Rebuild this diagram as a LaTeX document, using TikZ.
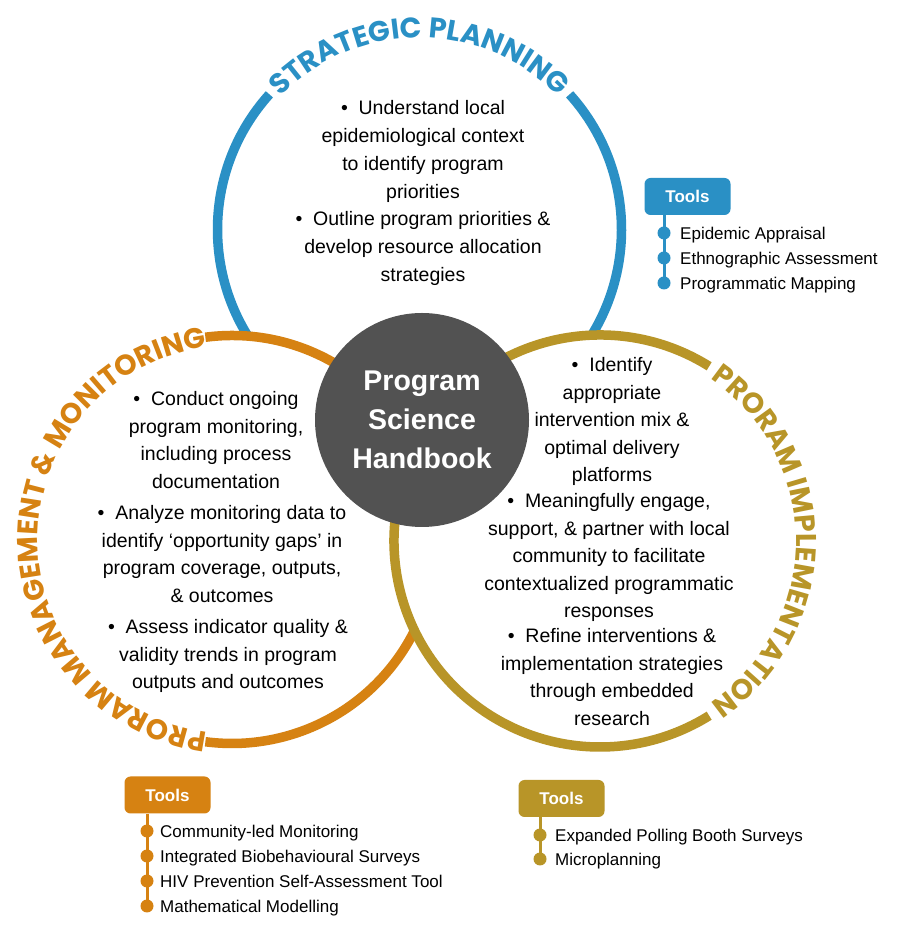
\documentclass[tikz,border=0pt]{standalone}
\usepackage{fontspec}
\setmainfont{Liberation Sans}
\newfontfamily\titlefont{Poppins}
\usetikzlibrary{decorations.text}
\definecolor{spblue}{RGB}{42,144,197}
\definecolor{pmorange}{RGB}{214,130,18}
\definecolor{pigold}{RGB}{184,149,40}
\definecolor{hbgray}{RGB}{82,82,82}
\begin{document}
\begin{tikzpicture}[x=1pt,y=1pt,
  ring/.style={line width=9.5pt},
  body/.style={align=center, anchor=north, font=\fontsize{19.5}{27.5}\selectfont, inner sep=0pt},
  toolbox/.style={rounded corners=6pt, minimum width=86pt, minimum height=37pt, text=white, font=\fontsize{17}{20}\selectfont\bfseries, inner sep=0pt},
  tooldot/.style={circle, minimum size=13pt, inner sep=0pt},
  toolline/.style={line width=3pt},
  tooltext/.style={anchor=west, font=\fontsize{17}{20}\selectfont, inner sep=0pt, text height=12.2pt, text depth=0pt},
  titlepath/.style={decorate, decoration={text along path, text align=center, text={#1}}}
]
\fill[white] (0,0) rectangle (900,926);
\useasboundingbox (0,0) rectangle (900,926);

\coordinate (bc) at (419.5,696.5);
\coordinate (oc) at (232,386.5);
\coordinate (gc) at (600,385);

% rings (white discs so that later rings hide earlier ones)
\fill[white] (bc) circle[radius=202];
\draw[ring, spblue] (bc) ++(42:202) arc[start angle=42, end angle=-222, radius=202];
\fill[white] (oc) circle[radius=204];
\draw[ring, pmorange] (oc) ++(97.5:204) arc[start angle=97.5, end angle=-97.5, radius=204];
\fill[white] (gc) circle[radius=206];
\draw[ring, pigold] (gc) ++(58:206) arc[start angle=58, end angle=302, radius=206];

% curved titles
\path[titlepath={|\titlefont\bfseries\fontsize{28.5}{30}\selectfont\color{spblue}|STRATEGIC PLANNING}]
  (bc) ++(170:192) arc[start angle=170, end angle=10, radius=192];
\path[titlepath={|\titlefont\bfseries\fontsize{28.5}{30}\selectfont\color{pmorange}|PRORAM MANAGEMENT {\&} MONITORING}]
  (oc) ++(275:194) arc[start angle=275, end angle=85, radius=194];
\path[titlepath={|\titlefont\bfseries\fontsize{28.5}{30}\selectfont\color{pigold}|PRORAM IMPLEMENTATION}]
  (gc) ++(70:196) arc[start angle=70, end angle=-70, radius=196];

% centre
\node[circle, fill=hbgray, minimum size=214pt, inner sep=0pt, text=white, align=center,
      font=\fontsize{28.5}{39}\selectfont\bfseries] (hb) at (422,506) {Program\\Science\\Handbook};

% strategic planning text
\node[body, font=\fontsize{19.5}{28}\selectfont] (sp1) at (423,825.5) {•\ \ Understand local\\epidemiological context\\to identify program\\priorities};
\node[body, font=\fontsize{19.5}{28}\selectfont] (sp2) at (423,714.5) {•\ \ Outline program priorities \&\\develop resource allocation\\strategies};

% management & monitoring text
\node[body] (pm1) at (216,534.5) {•\ \ Conduct ongoing\\program monitoring,\\including process\\documentation};
\node[body] (pm2) at (222,420.5) {•\ \ Analyze monitoring data to\\identify ‘opportunity gaps’ in\\program coverage, outputs,\\\& outcomes};
\node[body] (pm3) at (228,306.5) {•\ \ Assess indicator quality \&\\validity trends in program\\outputs and outcomes};

% implementation text
\node[body] (pi1) at (612,568.5) {•\ \ Identify\\appropriate\\intervention mix \&\\optimal delivery\\platforms};
\node[body] (pi2) at (609,432.5) {•\ \ Meaningfully engage,\\support, \& partner with local\\community to facilitate\\contextualized programmatic\\responses};
\node[body] (pi3) at (612,297.5) {•\ \ Refine interventions \&\\implementation strategies\\through embedded\\research};

% tools: strategic planning
\node[toolbox, fill=spblue] (spt) at (687.5,729.5) {Tools};
\node[tooldot, fill=spblue] (spd1) at (664,693) {};
\node[tooldot, fill=spblue] (spd2) at (664,668) {};
\node[tooldot, fill=spblue] (spd3) at (664,643) {};
\draw[toolline, spblue] (spt.south -| spd1) -- (spd3.center);
\node[tooltext] (spl1) at (680,693) {Epidemic Appraisal};
\node[tooltext] (spl2) at (680,668) {Ethnographic Assessment};
\node[tooltext] (spl3) at (680,643) {Programmatic Mapping};

% tools: management & monitoring
\node[toolbox, fill=pmorange] (pmt) at (167.5,131) {Tools};
\node[tooldot, fill=pmorange] (pmd1) at (147,95) {};
\node[tooldot, fill=pmorange] (pmd2) at (147,70) {};
\node[tooldot, fill=pmorange] (pmd3) at (147,45) {};
\node[tooldot, fill=pmorange] (pmd4) at (147,20) {};
\draw[toolline, pmorange] (pmt.south -| pmd1) -- (pmd4.center);
\node[tooltext] (pml1) at (160,95) {Community-led Monitoring};
\node[tooltext] (pml2) at (160,70) {Integrated Biobehavioural Surveys};
\node[tooltext] (pml3) at (160,45) {HIV Prevention Self-Assessment Tool};
\node[tooltext] (pml4) at (160,20) {Mathematical Modelling};

% tools: implementation
\node[toolbox, fill=pigold] (pit) at (561.5,127.5) {Tools};
\node[tooldot, fill=pigold] (pid1) at (540,91) {};
\node[tooldot, fill=pigold] (pid2) at (540,67) {};
\draw[toolline, pigold] (pit.south -| pid1) -- (pid2.center);
\node[tooltext] (pil1) at (555,91) {Expanded Polling Booth Surveys};
\node[tooltext] (pil2) at (555,67) {Microplanning};
\end{tikzpicture}
\end{document}
